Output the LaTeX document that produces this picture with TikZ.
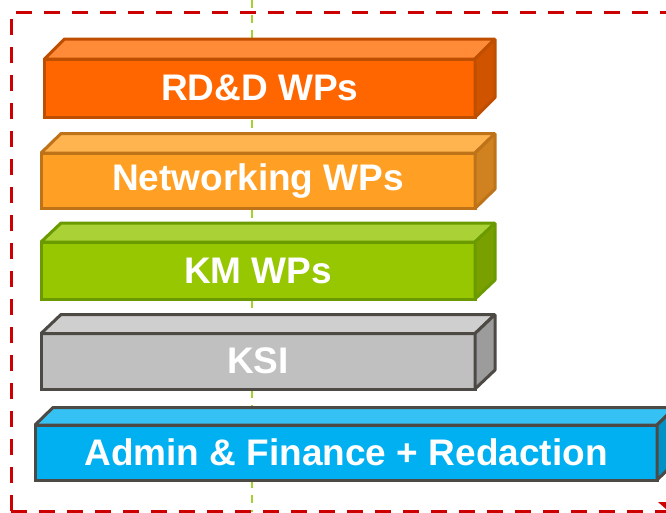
\documentclass[tikz,border=0pt]{standalone}
\usepackage{fontspec}
\setmainfont{Liberation Sans}
\definecolor{framered}{HTML}{CC0000}
\definecolor{axisgreen}{HTML}{A4D22C}
\definecolor{rddF}{HTML}{FF6600}\definecolor{rddT}{HTML}{FF8A38}\definecolor{rddS}{HTML}{D05400}\definecolor{rddL}{HTML}{BF4F00}
\definecolor{netF}{HTML}{FFA024}\definecolor{netT}{HTML}{FFB44F}\definecolor{netS}{HTML}{CF821F}\definecolor{netL}{HTML}{BE7319}
\definecolor{kmF}{HTML}{96C700}\definecolor{kmT}{HTML}{AAD236}\definecolor{kmS}{HTML}{79A000}\definecolor{kmL}{HTML}{6A9A00}
\definecolor{ksiF}{HTML}{C0C0C0}\definecolor{ksiT}{HTML}{CFCFCF}\definecolor{ksiS}{HTML}{9C9C9C}\definecolor{ksiL}{HTML}{4D4A45}
\definecolor{admF}{HTML}{00B0F0}\definecolor{admT}{HTML}{35C1F4}\definecolor{admS}{HTML}{0091C6}\definecolor{admL}{HTML}{4D4A45}
\tikzset{
  front/.style={rectangle, anchor=north west, outer sep=0pt, inner sep=0pt,
    line width=3pt, line join=miter, text=white,
    font=\fontsize{37}{41}\selectfont\bfseries},
  facet/.style={line width=3pt, line join=bevel}
}
\newcommand\slabfaces[6]{%
  \filldraw[facet, draw=#6, fill=#4] (#1.north west) -- ++(#2,#3)
    -- ([shift={(#2,#3)}]#1.north east) -- (#1.north east) -- cycle;
  \filldraw[facet, draw=#6, fill=#5] (#1.north east) -- ([shift={(#2,#3)}]#1.north east)
    -- ([shift={(#2,#3)}]#1.south east) -- (#1.south east) -- cycle;}
\begin{document}
\begin{tikzpicture}[x=1pt,y=-1pt]
\useasboundingbox (0,0) rectangle (666,512);
% frame
\draw[framered, line width=3pt, dash pattern=on 16pt off 12pt]
  (11,511) -- (11,12) -- (680,12);
\draw[framered, line width=3pt, dash pattern=on 16pt off 12pt]
  (11,511) -- (680,511);
\fill[framered] (658,502) -- (666,502) -- (666,509) -- cycle;
% vertical axis
\coordinate (axtop) at (252,0);
\coordinate (axbot) at (252,512);
\draw[axisgreen, line width=1.6pt, dash pattern=on 8pt off 7pt] (axtop) -- (axbot);
% slabs
\node[front, fill=rddF, draw=rddL, minimum width=430.5pt, minimum height=58.5pt] (rdd) at (44.5,59) {RD\&D WPs};
\slabfaces{rdd}{20}{-20}{rddT}{rddS}{rddL}
\node[front, fill=netF, draw=netL, minimum width=434pt, minimum height=55.5pt] (net) at (41,153) {Networking WPs};
\slabfaces{net}{20}{-19.5}{netT}{netS}{netL}
\node[front, fill=kmF, draw=kmL, minimum width=434pt, minimum height=57pt] (km) at (41,242) {KM WPs};
\slabfaces{km}{20}{-19}{kmT}{kmS}{kmL}
\node[front, fill=ksiF, draw=ksiL, minimum width=434pt, minimum height=55.5pt] (ksi) at (41,333.5) {KSI};
\slabfaces{ksi}{20}{-19}{ksiT}{ksiS}{ksiL}
\node[front, fill=admF, draw=admL, minimum width=622pt, minimum height=55pt] (adm) at (35,425) {Admin \& Finance + Redaction};
\slabfaces{adm}{18}{-17.5}{admT}{admS}{admL}
\end{tikzpicture}
\end{document}
